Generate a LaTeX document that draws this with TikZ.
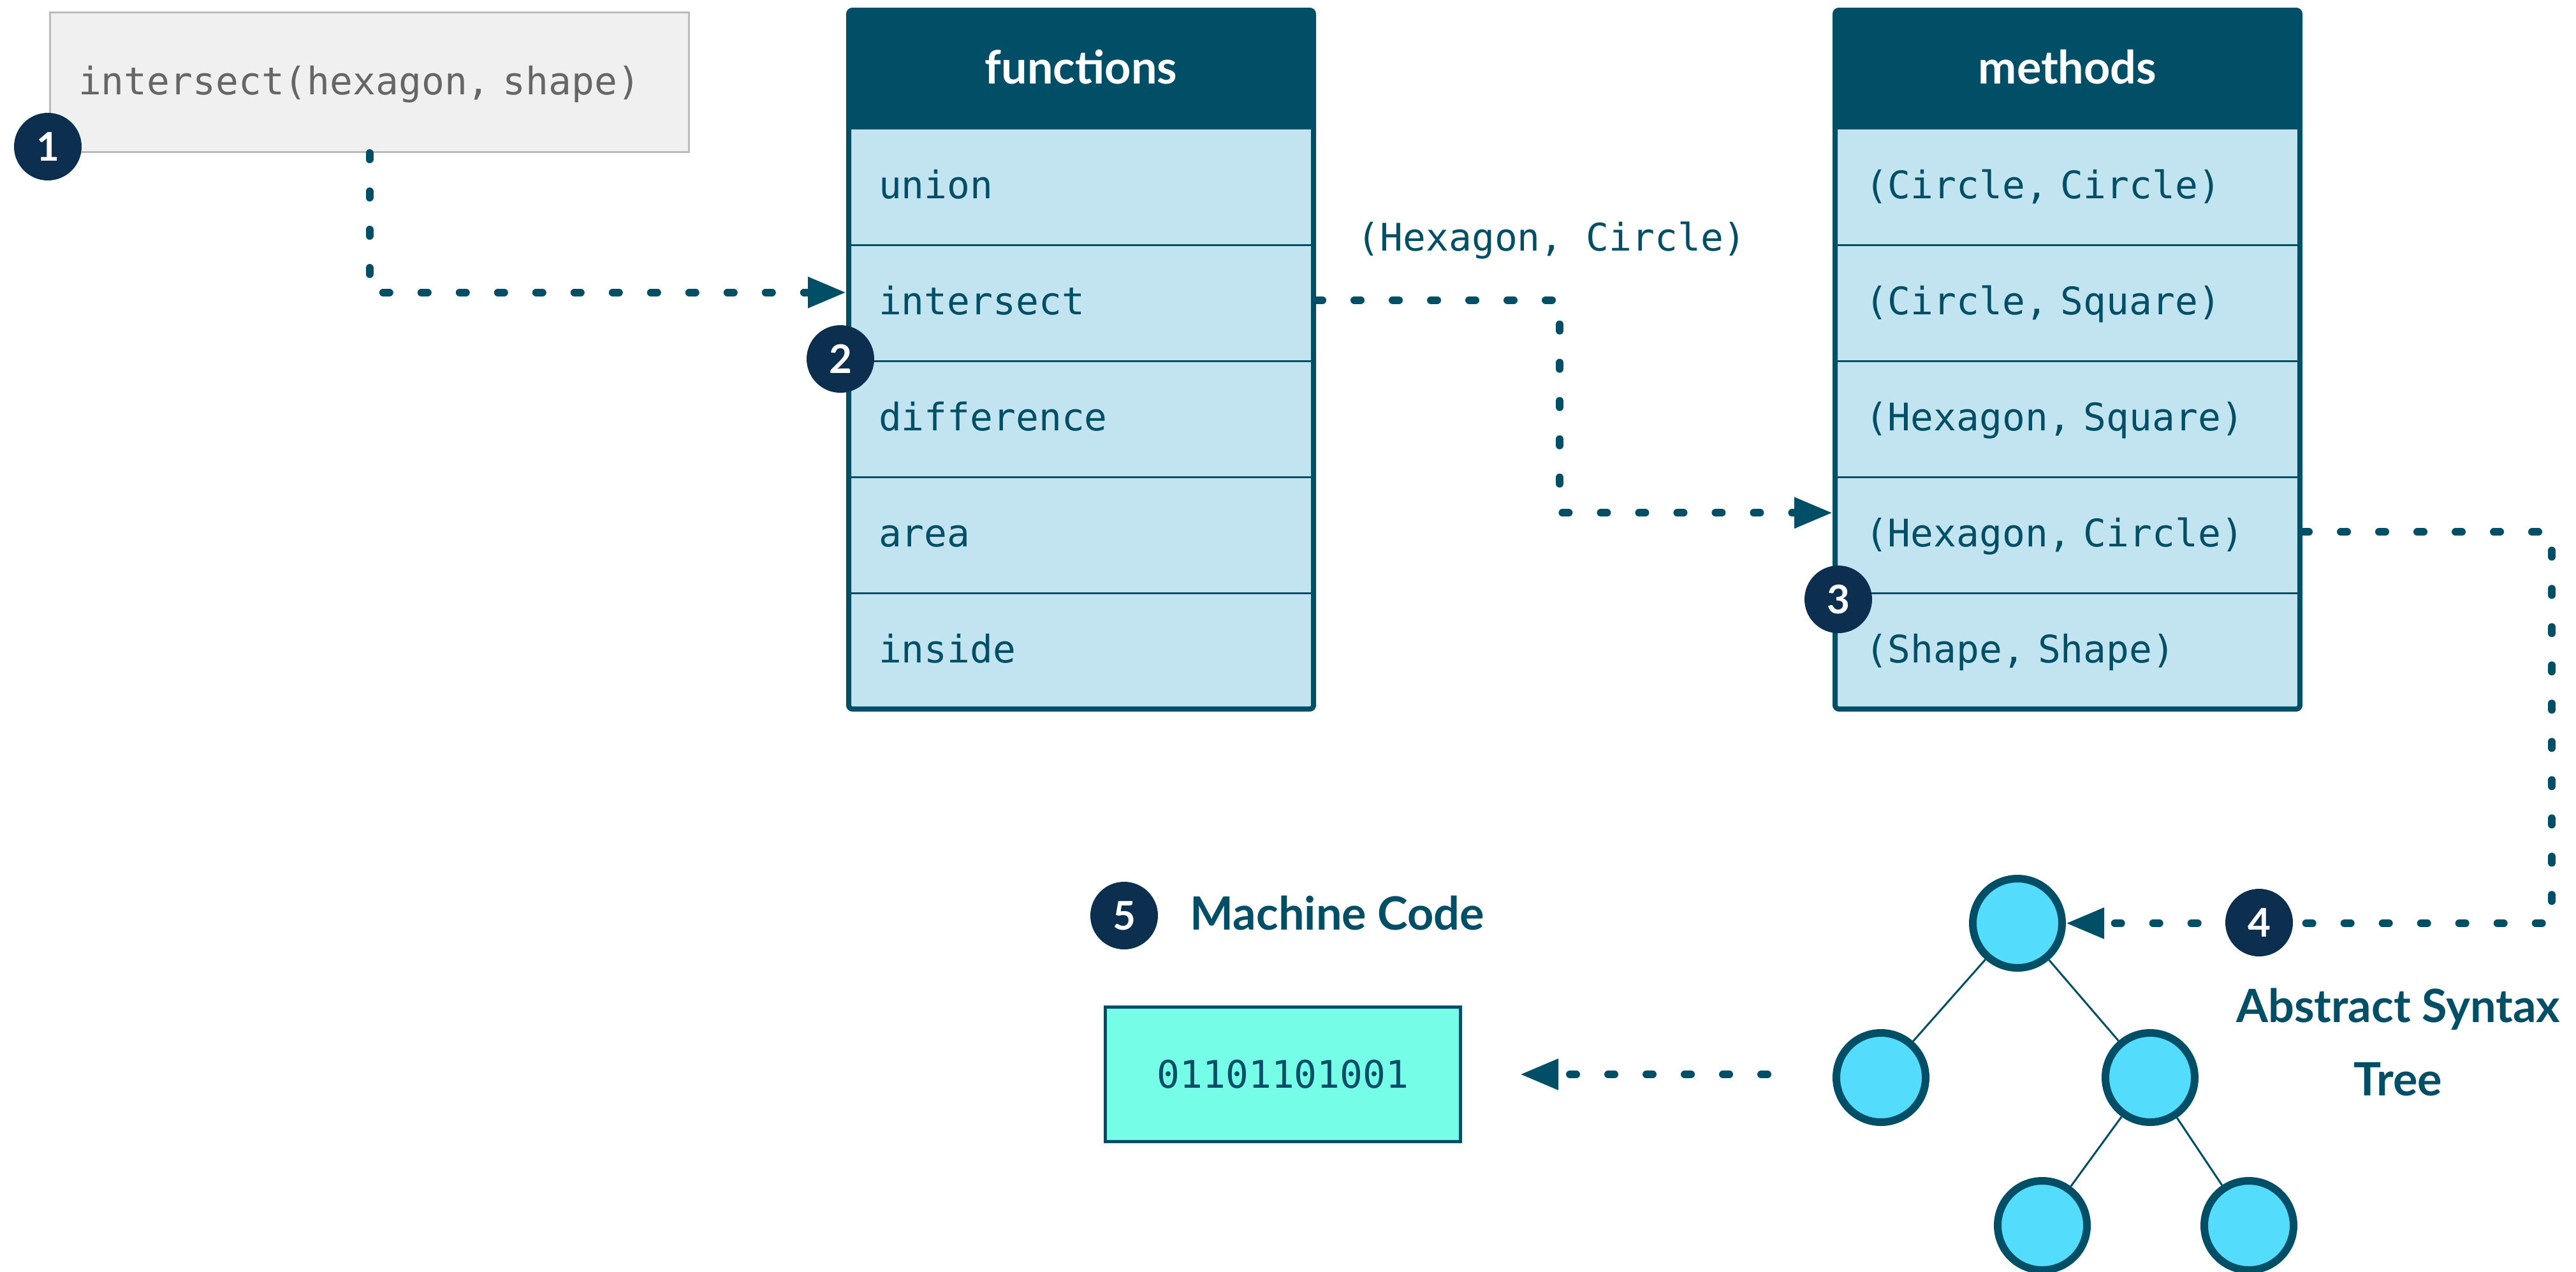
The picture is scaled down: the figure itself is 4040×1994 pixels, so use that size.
\documentclass[tikz,border=0pt]{standalone}
\usepackage{fontspec}
\setmonofont{DejaVu Sans Mono}
\newfontfamily\headfont{Lato}
\usetikzlibrary{arrows.meta,calc}

\definecolor{inkteal}{RGB}{1,79,102}
\definecolor{navy}{RGB}{12,47,79}
\definecolor{rowfill}{RGB}{194,228,240}
\definecolor{callfill}{RGB}{240,240,240}
\definecolor{callline}{RGB}{187,187,187}
\definecolor{calltext}{RGB}{102,102,102}
\definecolor{codefill}{RGB}{118,253,232}
\definecolor{astcyan}{RGB}{83,220,252}

\tikzset{
  monotext/.style={font=\ttfamily\fontsize{14.9pt}{17.5pt}\selectfont},
  headtext/.style={font=\headfont\bfseries\fontsize{18pt}{22pt}\selectfont},
  hdr/.style={headtext, fill=inkteal, text=white, anchor=north west,
    minimum width=182.25pt, minimum height=46.75pt, inner sep=0pt, outer sep=0pt,
    text height=13pt, text depth=1.8pt},
  rowbox/.style={monotext, fill=rowfill, text=inkteal, anchor=north west,
    minimum width=182.25pt, minimum height=45.45pt, inner xsep=11.75pt, inner ysep=0pt,
    outer sep=0pt, text width=158.75pt, align=left, text height=11pt, text depth=2pt},
  divider/.style={draw=inkteal, line width=0.75pt},
  tableframe/.style={draw=inkteal, line width=2pt, rounded corners=1.5pt},
  callbox/.style={monotext, fill=callfill, draw=callline, line width=0.75pt, text=calltext,
    minimum width=250.5pt, minimum height=54.75pt, inner xsep=11.125pt, inner ysep=0pt,
    text width=228.25pt, align=left, text height=11.5pt, text depth=2pt},
  codebox/.style={monotext, fill=codefill, draw=inkteal, line width=1.25pt, text=inkteal,
    minimum width=139.25pt, minimum height=52.75pt, inner sep=0pt},
  astnode/.style={circle, fill=astcyan, draw=inkteal, line width=3pt,
    minimum size=35pt, inner sep=0pt},
  astedge/.style={draw=inkteal, line width=0.75pt},
  badge/.style={circle, fill=navy, text=white, minimum size=26.5pt, inner sep=0pt,
    font=\headfont\bfseries\fontsize{15.5pt}{18pt}\selectfont},
  captiontext/.style={headtext, text=inkteal, inner sep=0pt},
  flowlabel/.style={monotext, text=inkteal, inner sep=0pt},
  flow/.style={draw=inkteal, line width=3pt, line cap=round, dash pattern=on 2.5pt off 12.5pt},
  tipped/.style={-{Triangle[length=15pt,width=11.5pt]}},
}

\begin{document}
\begin{tikzpicture}[x=0.25pt, y=-0.25pt]
  \useasboundingbox (0,0) rectangle (4040,1994);

  % the call being dispatched
  \node[callbox] (call) at (579.5,129) {intersect(hexagon, shape)};

  % table of generic functions
  \node[hdr] (fhead) at (1331,16) {functions};
  \node[rowbox] (f1) at (fhead.south west) {union};
  \node[rowbox] (f2) at (f1.south west) {intersect};
  \node[rowbox] (f3) at (f2.south west) {difference};
  \node[rowbox] (f4) at (f3.south west) {area};
  \node[rowbox] (f5) at (f4.south west) {inside};
  \foreach \r in {f1,f2,f3,f4}
    \draw[divider] (\r.south west) -- (\r.south east);
  \draw[tableframe] (fhead.north west) rectangle (f5.south east);

  % table of methods of intersect
  \node[hdr] (mhead) at (2878,16) {methods};
  \node[rowbox] (m1) at (mhead.south west) {(Circle, Circle)};
  \node[rowbox] (m2) at (m1.south west) {(Circle, Square)};
  \node[rowbox] (m3) at (m2.south west) {(Hexagon, Square)};
  \node[rowbox] (m4) at (m3.south west) {(Hexagon, Circle)};
  \node[rowbox] (m5) at (m4.south west) {(Shape, Shape)};
  \foreach \r in {m1,m2,m3,m4}
    \draw[divider] (\r.south west) -- (\r.south east);
  \draw[tableframe] (mhead.north west) rectangle (m5.south east);

  % signature used for the lookup
  \node[flowlabel, anchor=base west] (sig) at (2128,393) {(Hexagon, Circle)};

  % machine code
  \node[captiontext, anchor=base west] (mctitle) at (1866,1458) {Machine Code};
  \node[codebox] (mcode) at (2012,1685) {01101101001};

  % abstract syntax tree
  \node[astnode] (root) at (3164,1448) {};
  \node[astnode] (left) at (2950,1690) {};
  \node[astnode] (right) at (3372,1690) {};
  \node[astnode] (rl) at (3203,1922) {};
  \node[astnode] (rr) at (3527,1922) {};
  \draw[astedge] (root) -- (left);
  \draw[astedge] (root) -- (right);
  \draw[astedge] (right) -- (rl);
  \draw[astedge] (right) -- (rr);
  \node[captiontext, anchor=base] (asttitle) at (3761,1603) {Abstract Syntax};
  \node[captiontext, anchor=base] (asttitle2) at (3761,1718) {Tree};

  % dotted flow between the stages
  \coordinate (c1) at ($(f2.west)+(-4,-17)$);
  \draw[flow, tipped] (call.south) |- (c1);

  \coordinate (c2s) at ($(f2.east)+(4,-5)$);
  \coordinate (c2e) at ($(m4.west)+(-4,-35)$);
  \coordinate (bend2) at (2446,0);
  \draw[flow, tipped] (c2s) -| (bend2 |- c2e) -- (c2e);

  \coordinate (c3s) at ($(m4.east)+(4,-5)$);
  \coordinate (bend3) at (4002,0);
  \draw[flow, tipped] (c3s) -| (bend3 |- root.east) -- (root.east);

  \coordinate (c4s) at (2772,1685);
  \draw[flow, tipped] (c4s) -- ($(mcode.east)+(91,0)$);

  % step badges
  \node[badge] (b1) at (75,230) {1};
  \node[badge] (b2) at (1318,563) {2};
  \node[badge] (b3) at (2883,940) {3};
  \node[badge] (b4) at (3543,1447) {4};
  \node[badge] (b5) at (1763,1436) {5};
\end{tikzpicture}
\end{document}
